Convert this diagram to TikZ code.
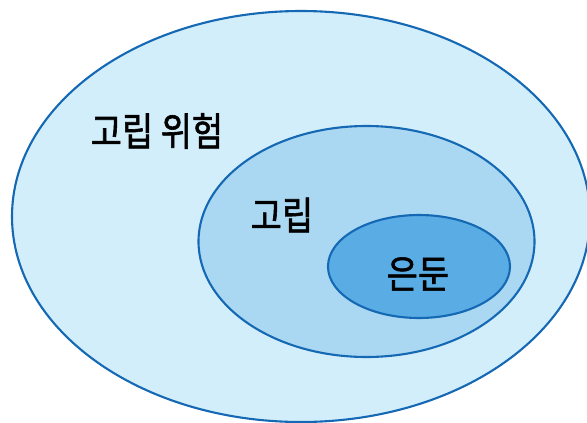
\documentclass[tikz,border=0pt]{standalone}
\usepackage{fontspec}
\newfontfamily\kor[FakeBold=1.6]{Noto Sans CJK KR}
\usepackage{xcolor}
\usetikzlibrary{positioning}

\definecolor{ringline}{HTML}{1468B4}
\definecolor{riskfill}{HTML}{D2EEFB}
\definecolor{isofill}{HTML}{AAD8F2}
\definecolor{hermitfill}{HTML}{5AACE4}

\tikzset{
    ring/.style={draw=ringline, line width=2.1pt},
    label/.style={font=\kor\fontsize{39}{45}\selectfont, text=black, xscale=0.87, inner sep=0pt}
}

\begin{document}
\begin{tikzpicture}[x=1pt, y=-1pt]
    \useasboundingbox (0,0) rectangle (587,423);

    % Sets
    \draw[ring, fill=riskfill] (301,216.5) ellipse [x radius=289pt, y radius=205.5pt];
    \draw[ring, fill=isofill] (366.5,241.5) ellipse [x radius=168pt, y radius=115.5pt];
    \draw[ring, fill=hermitfill] (419,266.5) ellipse [x radius=91pt, y radius=51.5pt];

    % Labels
    \node[label] (risk) at (157,131) {고립 위험};
    \node[label] (iso) at (282,215) {고립};
    \node[label] (hermit) at (418,274) {은둔};
\end{tikzpicture}
\end{document}
